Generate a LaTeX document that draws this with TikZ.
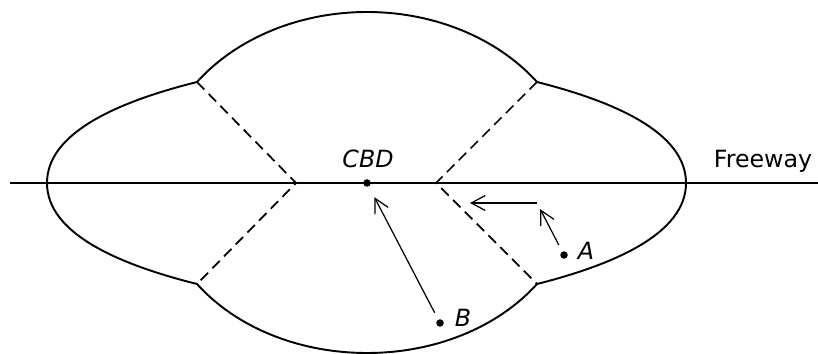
\documentclass[tikz,border=0pt]{standalone}
\usepackage{fontspec}
\setsansfont{DejaVu Sans}
\usetikzlibrary{arrows.meta}

\begin{document}
\begin{tikzpicture}[x=0.02cm, y=-0.02cm, >={Straight Barb[length=2.8mm,width=3mm]},
  font=\sffamily\fontsize{13.5}{16}\selectfont,
  lobe/.style={line width=1.1pt}, hwy/.style={line width=1.4pt},
  zone/.style={line width=1pt, dash pattern=on 6pt off 3.5pt},
  arr/.style={->, line width=0.7pt}, dot/.style={circle, fill, inner sep=0pt, minimum size=1.5mm}]
  \useasboundingbox (0,0) rectangle (818,354);
  \coordinate (j1) at (197,82); \coordinate (j2) at (537,82);
  \coordinate (j3) at (537,284); \coordinate (j4) at (197,284);
  \coordinate (v1) at (296,183); \coordinate (v2) at (436,183);
  \coordinate (w) at (10,183); \coordinate (e) at (818,183);
  % city outline
  \draw[lobe] (j1) .. controls (236.7,38) and (299.8,12) .. (367,12) .. controls (434.2,12) and (497.3,38) .. (j2)
    .. controls (616,102) and (686,133) .. (686,183) .. controls (686,233) and (616,264) .. (j3)
    .. controls (497.3,328) and (434.2,353) .. (367,353) .. controls (299.8,353) and (236.7,328) .. (j4)
    .. controls (117,264) and (47,233) .. (47,183) .. controls (47,133) and (117,102) .. (j1) -- cycle;
  \draw[hwy] (w) -- (e);
  \draw[zone] (j1) -- (v1) -- (j4); \draw[zone] (j2) -- (v2) -- (j3);
  \node[dot] (cbd) at (367,183) {};
  \node[dot] (a) at (564,255) {};
  \node[dot] (b) at (440,323) {};
  \node[anchor=base] (cbdlbl) at (368,168) {\itshape CBD};
  \node[anchor=base] (albl) at (586,260) {\itshape A};
  \node[anchor=base] (blbl) at (463,327) {\itshape B};
  \node[anchor=base] (fwy) at (763,168) {Freeway};
  \coordinate (turn) at (537,203); \coordinate (tip) at (470,203);
  \draw[arr, shorten <=1.5mm, shorten >=2.4mm] (b) -- (cbd);
  \draw[arr, shorten <=1.4mm, shorten >=1.4mm] (a) -- (turn);
  \draw[arr] (turn) -- (tip);
\end{tikzpicture}
\end{document}
